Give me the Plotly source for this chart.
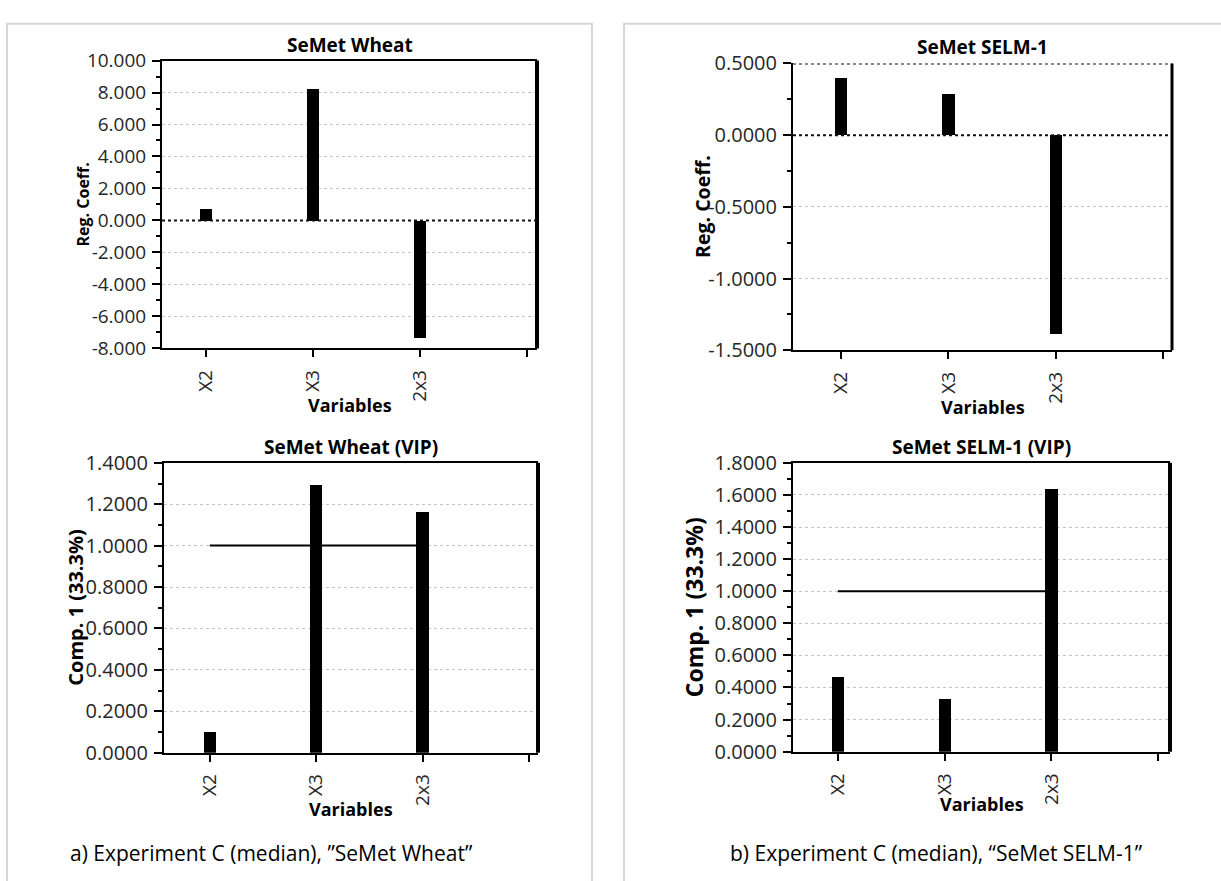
import plotly.graph_objects as go

# Variables on the x axis (a trailing empty slot keeps the axis' fourth tick)
variables = ["X2", "X3", "2x3"]

# Regression coefficients
wheat_coeff = [0.76, 8.26, -7.34]
selm_coeff = [0.395, 0.283, -1.39]

# VIP scores, component 1
wheat_vip = [0.10, 1.295, 1.165]
selm_vip = [0.465, 0.33, 1.64]
VIP_THRESHOLD = 1.0

chart_titles = ["SeMet Wheat", "SeMet SELM-1", "SeMet Wheat (VIP)", "SeMet SELM-1 (VIP)"]
y_titles = ["Reg. Coeff.", "Reg. Coeff.", "Comp. 1 (33.3%)", "Comp. 1 (33.3%)"]
captions = ["a) Experiment C (median), \u201dSeMet Wheat\u201d",
            "b) Experiment C (median), \u201cSeMet SELM-1\u201d"]

W, H = 1221, 881
FONT = "Open Sans"
TXT = "#262626"


def fx(px):
    return px / W


def fy(py):
    return 1 - py / H


# plot boxes in pixels: left, top, right, bottom
boxes = [(162, 48, 537, 345), (793, 51, 1172, 347),
         (164, 463, 538, 762), (793, 463, 1170, 761)]
y_ranges = [(-8, 10), (-1.5, 0.5), (0, 1.4), (0, 1.8)]
y_steps = [2, 0.5, 0.2, 0.2]
y_decimals = [3, 4, 4, 4]
x_ranges = [(-0.41, 3.09), (-0.45, 3.085), (-0.43, 3.085), (-0.42, 3.11)]
series = [wheat_coeff, selm_coeff, wheat_vip, selm_vip]

# per-chart text sizes and offsets
tick_sizes = [19, 20, 20, 20]
title_sizes = [19, 19, 19, 19]
ytitle_sizes = [16, 19.5, 20, 23]
ytitle_x = [83, 703, 76, 694]
xtitle_gap = [58, 58, 58, 54]

fig = go.Figure()
layout = dict(width=W, height=H, margin=dict(l=0, r=0, t=0, b=0),
              paper_bgcolor="white", plot_bgcolor="white", showlegend=False,
              font=dict(family=FONT, color=TXT), bargap=0)
shapes, annotations = [], []

for i in range(4):
    n = "" if i == 0 else str(i + 1)
    xa, ya = "x" + n, "y" + n
    l, t, r, b = boxes[i]
    lo, hi = y_ranges[i]
    step = y_steps[i]
    nt = int(round((hi - lo) / step))
    tvals = [round(lo + k * step, 6) for k in range(nt + 1)]
    ttext = [f"{v:.{y_decimals[i]}f}" for v in tvals]

    if i >= 2:
        fig.add_trace(go.Scatter(x=[0, 2], y=[VIP_THRESHOLD, VIP_THRESHOLD], mode="lines",
                                 line=dict(color="black", width=2), xaxis=xa, yaxis=ya,
                                 hoverinfo="skip"))
    fig.add_trace(go.Bar(x=list(range(len(variables))), y=series[i], width=0.115,
                         marker=dict(color="black", line=dict(width=0)),
                         xaxis=xa, yaxis=ya))

    layout["xaxis" + n] = dict(
        domain=[fx(l), fx(r)], anchor=ya, range=list(x_ranges[i]),
        tickmode="array", tickvals=[0, 1, 2, 3], ticktext=variables + [""],
        tickangle=-90, ticks="outside", ticklen=7, tickwidth=2, tickcolor="black",
        showline=True, linewidth=2, linecolor="black", mirror=(i != 1),
        showgrid=False, zeroline=False, ticklabelstandoff=5,
        tickfont=dict(size=19, color=TXT, family=FONT),
    )
    layout["yaxis" + n] = dict(
        domain=[fy(b), fy(t)], anchor=xa, range=[lo, hi],
        tickmode="array", tickvals=tvals, ticktext=ttext,
        ticks="outside", ticklen=8, tickwidth=2, tickcolor="black",
        showline=True, linewidth=2, linecolor="black", zeroline=False,
        showgrid=True, gridcolor="#c4c4c4", gridwidth=1, griddash="dot",
        minor=dict(tickmode="linear", tick0=lo, dtick=step / 2, ticks="outside",
                   ticklen=4, tickwidth=2, tickcolor="black", showgrid=False),
        tickfont=dict(size=tick_sizes[i], color=TXT, family=FONT), ticklabelstandoff=2,
    )

    # right-hand frame edge
    shapes.append(dict(type="line", xref=xa + " domain", yref=ya + " domain",
                       x0=1, x1=1, y0=0, y1=1,
                       line=dict(color="black", width=3 if i == 1 else 4)))
    # dotted zero line on the coefficient charts
    if i < 2:
        shapes.append(dict(type="line", xref=xa + " domain", yref=ya, x0=0, x1=1,
                           y0=0, y1=0, line=dict(color="#111111", width=2, dash="dot")))
    if i == 1:
        shapes.append(dict(type="line", xref=xa + " domain", yref=ya, x0=0, x1=1,
                           y0=hi, y1=hi, line=dict(color="#111111", width=2, dash="dot")))

    # chart title
    annotations.append(dict(text=f"<b>{chart_titles[i]}</b>", xref="paper", yref="paper",
                            x=fx((l + r) / 2), y=fy(t - 1), xanchor="center", yanchor="bottom",
                            showarrow=False,
                            font=dict(size=title_sizes[i], color="black", family=FONT)))
    # axis titles
    annotations.append(dict(text="<b>Variables</b>", xref="paper", yref="paper",
                            x=fx((l + r) / 2), y=fy(b + xtitle_gap[i]), xanchor="center",
                            yanchor="middle", showarrow=False,
                            font=dict(size=18, color="black", family=FONT)))
    annotations.append(dict(text=f"<b>{y_titles[i]}</b>", xref="paper", yref="paper",
                            x=fx(ytitle_x[i]), y=fy((t + b) / 2), xanchor="center",
                            yanchor="middle", textangle=-90, showarrow=False,
                            font=dict(size=ytitle_sizes[i], color="black", family=FONT)))

# panel frames
shapes.append(dict(type="rect", xref="paper", yref="paper", x0=fx(7), x1=fx(592),
                   y0=fy(900), y1=fy(10), line=dict(color="#d6d6d6", width=2), layer="below"))
shapes.append(dict(type="rect", xref="paper", yref="paper", x0=fx(624), x1=fx(1235),
                   y0=fy(900), y1=fy(10), line=dict(color="#d6d6d6", width=2), layer="below"))

# captions
for cx, cap in zip([271, 936], captions):
    annotations.append(dict(text=cap, xref="paper", yref="paper", x=fx(cx), y=fy(866),
                            xanchor="center", yanchor="middle", showarrow=False,
                            font=dict(size=21, color="black", family=FONT)))

layout["shapes"] = shapes
layout["annotations"] = annotations
fig.update_layout(**layout)
fig.write_html("out.html")
